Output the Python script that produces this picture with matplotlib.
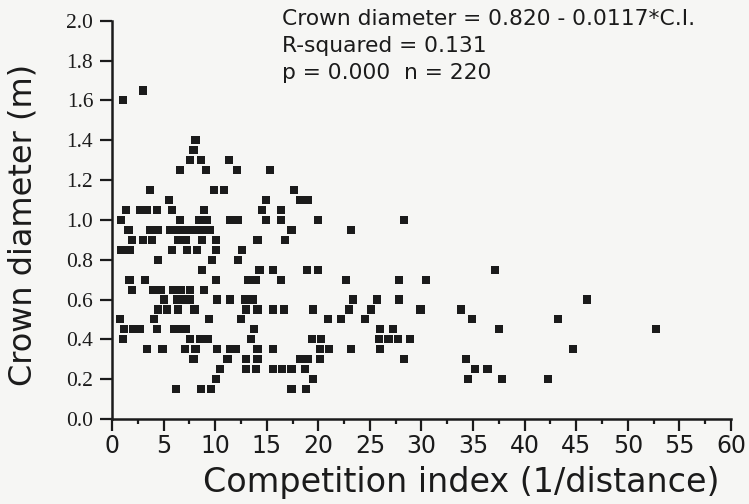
import matplotlib
matplotlib.use("Agg")
import matplotlib.pyplot as plt
from matplotlib.ticker import MultipleLocator

# crown diameter (m) levels, each with the competition indices measured at it
rows = {
    1.65: [3.0],
    1.60: [1.1],
    1.40: [8.1],
    1.35: [7.9],
    1.30: [7.6, 8.6, 11.3],
    1.25: [6.6, 9.1, 12.1, 15.3],
    1.15: [3.7, 9.9, 10.9, 17.6],
    1.10: [5.5, 14.9, 18.2, 19.0],
    1.05: [1.4, 2.7, 3.4, 4.4, 5.8, 8.9, 14.5, 16.4],
    1.00: [0.9, 6.6, 8.4, 9.2, 11.4, 12.2, 14.9, 16.4, 20.0, 28.3],
    0.95: [1.6, 3.7, 4.5, 5.6, 6.4, 7.2, 8.0, 8.8, 9.5, 17.4, 23.2],
    0.90: [1.9, 3.0, 3.9, 6.4, 7.2, 8.7, 10.1, 14.1, 16.8],
    0.85: [0.9, 1.7, 5.8, 7.3, 8.2, 10.1, 12.6],
    0.80: [4.5, 9.7, 12.2],
    0.75: [8.7, 14.3, 15.6, 18.9, 20.0, 37.1],
    0.70: [1.7, 3.2, 10.1, 13.2, 14.0, 16.4, 22.7, 27.8, 30.4],
    0.65: [1.9, 4.0, 4.7, 5.9, 6.7, 7.6, 8.9],
    0.60: [5.0, 6.3, 6.9, 7.6, 10.2, 11.4, 12.9, 13.7, 23.4, 25.7, 27.8, 46.0],
    0.55: [4.5, 5.3, 6.4, 8.0, 13.0, 14.1, 15.6, 16.7, 19.5, 23.0, 25.1, 29.9, 33.8],
    0.50: [0.8, 4.1, 9.4, 12.5, 20.9, 22.2, 24.5, 34.9, 43.2],
    0.45: [1.2, 2.0, 2.7, 4.4, 6.0, 6.8, 7.2, 13.8, 26.0, 27.2, 37.5, 52.7],
    0.40: [1.1, 7.6, 8.5, 9.3, 13.5, 19.4, 20.3, 25.9, 26.8, 27.7, 28.9],
    0.35: [3.4, 4.9, 7.1, 8.1, 10.2, 11.4, 12.0, 14.1, 15.6, 20.2, 21.0,
           23.2, 26.0, 44.7],
    0.30: [7.9, 11.2, 13.0, 14.1, 18.2, 19.0, 20.2, 28.3, 34.3],
    0.25: [10.5, 13.0, 14.0, 15.6, 16.5, 17.4, 18.7, 35.2, 36.4],
    0.20: [10.1, 19.5, 34.5, 37.8, 42.3],
    0.15: [6.2, 8.6, 9.6, 17.4, 18.8],
}

comp_index = [ci for cd, cis in rows.items() for ci in cis]
crown_diam = [cd for cd, cis in rows.items() for ci in cis]

x_ticks = list(range(0, 61, 5))
y_ticks = [v / 10 for v in range(0, 21, 2)]

stats_lines = [
    "Crown diameter = 0.820 - 0.0117*C.I.",
    "R-squared = 0.131",
    "p = 0.000  n = 220",
]

bg = "#f6f6f4"
ink = "#1b1b1b"

fig = plt.figure(figsize=(7.49, 5.04), dpi=100, facecolor=bg)
ax = fig.add_axes([0.1495, 0.1687, 0.8265, 0.790], facecolor=bg)

ax.scatter(comp_index, crown_diam, marker="s", s=34, color=ink,
           edgecolors="none", clip_on=False, zorder=3)

ax.set_xlim(0, 60)
ax.set_ylim(0, 2.0)
ax.set_xticks(x_ticks)
ax.xaxis.set_minor_locator(MultipleLocator(2.5))
ax.set_yticks(y_ticks)

for side in ("top", "right"):
    ax.spines[side].set_visible(False)
for side in ("left", "bottom"):
    ax.spines[side].set_linewidth(1.8)
    ax.spines[side].set_color(ink)

ax.tick_params(axis="x", which="major", direction="out", length=8.5,
               width=1.6, color=ink, pad=2)
ax.tick_params(axis="x", which="minor", direction="out", length=3.8,
               width=1.6, color=ink)
ax.tick_params(axis="y", which="major", direction="out", length=8.5,
               width=1.6, color=ink, pad=5)

ax.set_xticklabels([str(v) for v in x_ticks],
                   fontsize=17, family="DejaVu Sans", color=ink)
ax.set_yticklabels([f"{v:.1f}" for v in y_ticks],
                   fontsize=15.5, family="Liberation Serif", color=ink)

ax.set_xlabel("Competition index (1/distance)", fontsize=24,
              family="DejaVu Sans", color=ink)
ax.xaxis.set_label_coords(0.564, -0.118)
ax.set_ylabel("Crown diameter (m)", fontsize=23, family="DejaVu Sans",
              color=ink)
ax.yaxis.set_label_coords(-0.118, 0.487)

for i, line in enumerate(stats_lines):
    ax.text(0.275, 1.005 - i * 0.068, line, transform=ax.transAxes,
            fontsize=15.7, family="DejaVu Sans", color=ink, va="center")

fig.savefig("out.png", dpi=100, facecolor=bg)
